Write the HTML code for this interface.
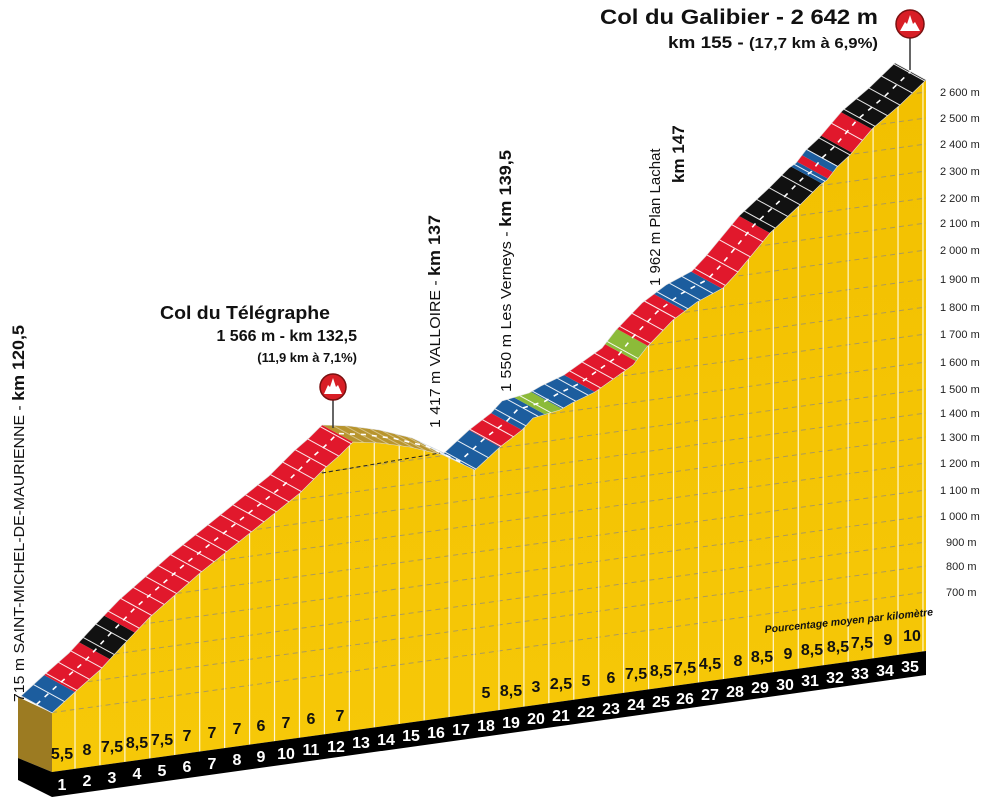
<!DOCTYPE html>
<html><head><meta charset="utf-8">
<style>
html,body{margin:0;padding:0;background:#fff;width:1000px;height:803px;overflow:hidden;}
svg{display:block;font-family:"Liberation Sans",sans-serif;}
.ax{font-size:11px;fill:#222;}
.kn{font-size:16px;font-weight:bold;fill:#fff;}
.gn{font-size:16px;font-weight:bold;fill:#111;}
</style></head><body>
<svg id="s" width="1000" height="803" viewBox="0 0 1000 803" xmlns="http://www.w3.org/2000/svg" overflow="hidden">
<defs>
<clipPath id="yc"><polygon id="ycp" points=""/></clipPath>
<clipPath id="bc"><polygon id="bcp" points=""/></clipPath>
<linearGradient id="yg" x1="0" y1="0" x2="0" y2="1"><stop offset="0" stop-color="#f2c000"/><stop offset="1" stop-color="#f6c808"/></linearGradient>
</defs>
<polygon points="18,697 52,713 52,772 18,758" fill="#9c7b22"/>
<polygon points="18,758 52,772 52,797 18,780" fill="#000"/>
<polygon id="yellow" points="" fill="url(#yg)"/>
<g id="grid" clip-path="url(#yc)"></g>
<g id="vlines"></g>
<polygon points="52,772 926,651 926,675 52,797" fill="#000"/>
<g id="band"></g>
<line x1="322" y1="473" x2="440" y2="453" stroke="#222" stroke-width="1" stroke-dasharray="4,3"/>

<line x1="910" y1="30" x2="910" y2="70" stroke="#333" stroke-width="1.5"/>
<circle cx="910" cy="24" r="14" fill="#d81e25" stroke="#7a1010" stroke-width="1.5"/>
<path d="M900,31 L905,22 L907,24 L910,15 L913,24 L915,22 L920,31 Z" fill="#fff"/>
<line x1="333" y1="395" x2="333" y2="428" stroke="#333" stroke-width="1.5"/>
<circle cx="333" cy="387" r="13" fill="#d81e25" stroke="#7a1010" stroke-width="1.5"/>
<path d="M324,394 L328,385 L330,387 L333,378 L336,387 L338,385 L342,394 Z" fill="#fff"/>

<text x="600" y="24" textLength="278" lengthAdjust="spacingAndGlyphs" font-size="21" font-weight="bold" fill="#111"><tspan font-weight="900">Col du Galibier</tspan> - 2 642 m</text>
<text x="668" y="48" textLength="210" lengthAdjust="spacingAndGlyphs" font-size="17" font-weight="bold" fill="#111">km 155 - <tspan font-size="15">(17,7 km à 6,9%)</tspan></text>
<text x="160" y="319" textLength="170" lengthAdjust="spacingAndGlyphs" font-size="18" font-weight="900" fill="#111">Col du Télégraphe</text>
<text x="357" y="341" text-anchor="end" font-size="16" font-weight="bold" fill="#111">1 566 m - km 132,5</text>
<text x="357" y="362" text-anchor="end" font-size="13" font-weight="bold" fill="#111">(11,9 km à 7,1%)</text>

<text transform="translate(24,702) rotate(-90)" textLength="377" lengthAdjust="spacingAndGlyphs" font-size="15" fill="#111">715 m SAINT-MICHEL-DE-MAURIENNE - <tspan font-weight="bold" font-size="17">km 120,5</tspan></text>
<text transform="translate(440,428) rotate(-90)" textLength="213" lengthAdjust="spacingAndGlyphs" font-size="15" fill="#111">1 417 m VALLOIRE - <tspan font-weight="bold" font-size="17">km 137</tspan></text>
<text transform="translate(511,392) rotate(-90)" textLength="242" lengthAdjust="spacingAndGlyphs" font-size="15" fill="#111">1 550 m Les Verneys - <tspan font-weight="bold" font-size="17">km 139,5</tspan></text>
<text transform="translate(660,286) rotate(-90)" font-size="15" fill="#111">1 962 m Plan Lachat</text>
<text transform="translate(684,183) rotate(-90)" font-size="17" font-weight="bold" fill="#111">km 147</text>

<text transform="translate(765,633) rotate(-6)" font-size="10.5" font-weight="bold" font-style="italic" fill="#111">Pourcentage moyen par kilomètre</text>

<g class="ax">
<text x="940" y="96">2 600 m</text><text x="940" y="122">2 500 m</text><text x="940" y="148">2 400 m</text>
<text x="940" y="175">2 300 m</text><text x="940" y="202">2 200 m</text><text x="940" y="227">2 100 m</text>
<text x="940" y="254">2 000 m</text><text x="940" y="283">1 900 m</text><text x="940" y="311">1 800 m</text>
<text x="940" y="338">1 700 m</text><text x="940" y="366">1 600 m</text><text x="940" y="393">1 500 m</text>
<text x="940" y="417">1 400 m</text><text x="940" y="441">1 300 m</text><text x="940" y="467">1 200 m</text>
<text x="940" y="494">1 100 m</text><text x="940" y="520">1 000 m</text><text x="946" y="546">900 m</text>
<text x="946" y="570">800 m</text><text x="946" y="596">700 m</text>
</g>

<g class="kn" text-anchor="middle">
<text x="62" y="790">1</text><text x="87" y="786">2</text><text x="112" y="783">3</text><text x="137" y="779">4</text>
<text x="162" y="776">5</text><text x="187" y="772">6</text><text x="212" y="769">7</text><text x="237" y="765">8</text>
<text x="261" y="762">9</text><text x="286" y="759">10</text><text x="311" y="755">11</text><text x="336" y="752">12</text>
<text x="361" y="748">13</text><text x="386" y="745">14</text><text x="411" y="741">15</text><text x="436" y="738">16</text>
<text x="461" y="735">17</text><text x="486" y="731">18</text><text x="511" y="728">19</text><text x="536" y="724">20</text>
<text x="561" y="721">21</text><text x="586" y="717">22</text><text x="611" y="714">23</text><text x="636" y="710">24</text>
<text x="661" y="707">25</text><text x="685" y="704">26</text><text x="710" y="700">27</text><text x="735" y="697">28</text>
<text x="760" y="693">29</text><text x="785" y="690">30</text><text x="810" y="686">31</text><text x="835" y="683">32</text>
<text x="860" y="679">33</text><text x="885" y="676">34</text><text x="910" y="672">35</text>
</g>
<g class="gn" text-anchor="middle">
<text x="62" y="759">5,5</text><text x="87" y="755">8</text><text x="112" y="752">7,5</text><text x="137" y="748">8,5</text>
<text x="162" y="745">7,5</text><text x="187" y="741">7</text><text x="212" y="738">7</text><text x="237" y="734">7</text>
<text x="261" y="731">6</text><text x="286" y="728">7</text><text x="311" y="724">6</text><text x="340" y="721">7</text>
<text x="486" y="698">5</text><text x="511" y="696">8,5</text><text x="536" y="692">3</text><text x="561" y="689">2,5</text>
<text x="586" y="686">5</text><text x="611" y="683">6</text><text x="636" y="679">7,5</text><text x="661" y="676">8,5</text>
<text x="685" y="673">7,5</text><text x="710" y="669">4,5</text><text x="738" y="666">8</text><text x="762" y="662">8,5</text>
<text x="788" y="659">9</text><text x="812" y="655">8,5</text><text x="838" y="652">8,5</text><text x="862" y="648">7,5</text>
<text x="888" y="645">9</text><text x="912" y="641">10</text>
</g>
</svg>
<script>
(function(){
var NS="http://www.w3.org/2000/svg";
var P=[[52,713],[75,692],[100,670],[125,643],[150,617],[175,595],[200,573],[225,553],[250,533],[275,513],[300,493],[325,468],[340,455],[353,442],[380,443],[410,447],[443,455],[460,463],[475,470],[500,447],[522,430],[533,418],[560,410],[572,403],[595,392],[633,365],[647,347],[673,320],[697,302],[723,288],[737,273],[770,233],[800,205],[820,185],[827,180],[837,167],[850,155],[873,128],[900,105],[926,80]];
var ox=-31,oy=-17;
function bt(x){return 772-0.138*(x-52);}
function py(x){for(var i=0;i<P.length-1;i++){if(x>=P[i][0]&&x<=P[i+1][0]){var t=(x-P[i][0])/(P[i+1][0]-P[i][0]);return P[i][1]+t*(P[i+1][1]-P[i][1]);}}return P[P.length-1][1];}
function el(n,a,p){var e=document.createElementNS(NS,n);for(var k in a)e.setAttribute(k,a[k]);(p||document.getElementById('s')).appendChild(e);return e;}
var yp=P.map(function(p){return p.join(',');}).join(' ')+' 926,651 52,772';
document.getElementById('yellow').setAttribute('points',yp);
document.getElementById('ycp').setAttribute('points',yp);
var g=document.getElementById('grid');
var ys=[96,122,148,175,202,227,254,283,311,338,366,393,417,441,467,494,520,546,570,596];
ys.forEach(function(y){var yr=y-4;el('line',{x1:52,y1:yr+0.138*874,x2:926,y2:yr,stroke:'#9a9070','stroke-width':1,'stroke-dasharray':'5,4',opacity:0.8},g);});
var v=document.getElementById('vlines');
for(var x=75;x<926;x+=24.94){el('line',{x1:x,y1:py(x),x2:x,y2:bt(x),stroke:'#fff6d0','stroke-width':1.2},v);}
var bp=P.map(function(p){return p.join(',');}).concat(P.slice().reverse().map(function(p){return (p[0]+ox)+','+(p[1]+oy);})).join(' ');
document.getElementById('bcp').setAttribute('points',bp);
var B=document.getElementById('band');
var inner=el('g',{'clip-path':'url(#bc)'},B);
var R='#e1182c',BL='#1c5d9e',K='#111',G='#8cbb39',O='#b8952e';
var C=[[52,75,BL],[75,110,R],[110,135,K],[135,353,R],[353,445,O],[445,500,BL],[500,522,R],[522,545,BL],[545,562,G],[562,595,BL],[595,636,R],[636,648,G],[648,685,R],[685,722,BL],[722,770,R],[770,822,K],[822,828,BL],[828,833,R],[833,838,BL],[838,852,K],[852,872,R],[872,930,K]];
function lineAt(a){var y=py(Math.min(a,926));var k=31/17;return [[a+30*k,y+30],[a-60*k,y-60]];}
C.forEach(function(c){var A=lineAt(c[0]),Bb=lineAt(c[1]);
el('polygon',{points:[A[0],Bb[0],Bb[1],A[1]].map(function(p){return p.join(',');}).join(' '),fill:c[2]},inner);});
for(var x=52;x<926;x+=12.47){var y=py(x);el('line',{x1:x,y1:y,x2:x+ox,y2:y+oy,stroke:'#fff','stroke-width':1,opacity:(x>353&&x<445)?0.4:0.9},inner);}
var cp=P.map(function(p){return (p[0]+ox/2)+','+(p[1]+oy/2);}).join(' ');
el('polyline',{points:cp,fill:'none',stroke:'#fff','stroke-width':1.6,'stroke-dasharray':'5,6'},inner);
el('polygon',{points:bp,fill:'none',stroke:'#ddd','stroke-width':0.6},B);
})();
</script>
</body></html>
